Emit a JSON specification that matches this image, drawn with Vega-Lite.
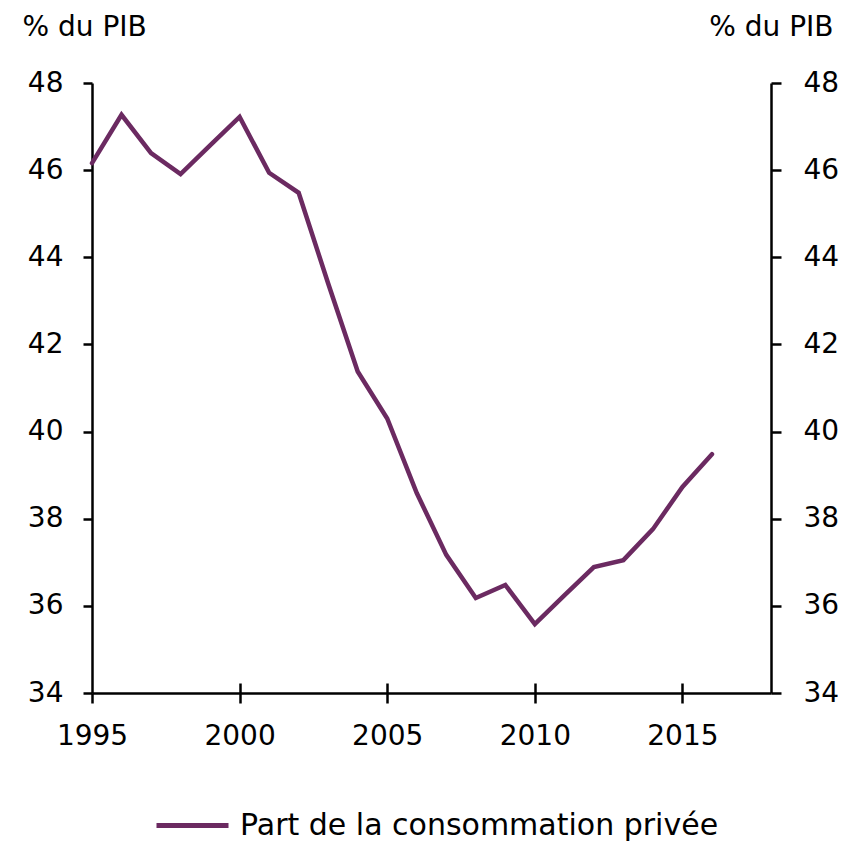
{
  "$schema": "https://vega.github.io/schema/vega-lite/v6.json",
  "width": 679,
  "height": 610,
  "autosize": {"type": "none"},
  "padding": {"left": 92, "top": 83, "right": 79, "bottom": 150},
  "background": "white",
  "config": {
    "font": "DejaVu Sans",
    "view": {"stroke": null},
    "axis": {
      "grid": false,
      "domainColor": "black",
      "domainWidth": 2.5,
      "tickColor": "black",
      "tickWidth": 2.5,
      "labelFont": "DejaVu Sans",
      "labelFontSize": 28,
      "labelColor": "black",
      "titleFont": "DejaVu Sans",
      "titleFontSize": 28,
      "titleFontWeight": "normal",
      "titleColor": "black"
    }
  },
  "data": {
    "values": [
      {"annee": 1995, "valeur": 46.16, "serie": "Part de la consommation privée"},
      {"annee": 1996, "valeur": 47.27, "serie": "Part de la consommation privée"},
      {"annee": 1997, "valeur": 46.39, "serie": "Part de la consommation privée"},
      {"annee": 1998, "valeur": 45.91, "serie": "Part de la consommation privée"},
      {"annee": 1999, "valeur": 46.57, "serie": "Part de la consommation privée"},
      {"annee": 2000, "valeur": 47.22, "serie": "Part de la consommation privée"},
      {"annee": 2001, "valeur": 45.94, "serie": "Part de la consommation privée"},
      {"annee": 2002, "valeur": 45.48, "serie": "Part de la consommation privée"},
      {"annee": 2003, "valeur": 43.4, "serie": "Part de la consommation privée"},
      {"annee": 2004, "valeur": 41.38, "serie": "Part de la consommation privée"},
      {"annee": 2005, "valeur": 40.3, "serie": "Part de la consommation privée"},
      {"annee": 2006, "valeur": 38.59, "serie": "Part de la consommation privée"},
      {"annee": 2007, "valeur": 37.17, "serie": "Part de la consommation privée"},
      {"annee": 2008, "valeur": 36.18, "serie": "Part de la consommation privée"},
      {"annee": 2009, "valeur": 36.48, "serie": "Part de la consommation privée"},
      {"annee": 2010, "valeur": 35.58, "serie": "Part de la consommation privée"},
      {"annee": 2011, "valeur": 36.24, "serie": "Part de la consommation privée"},
      {"annee": 2012, "valeur": 36.89, "serie": "Part de la consommation privée"},
      {"annee": 2013, "valeur": 37.05, "serie": "Part de la consommation privée"},
      {"annee": 2014, "valeur": 37.76, "serie": "Part de la consommation privée"},
      {"annee": 2015, "valeur": 38.73, "serie": "Part de la consommation privée"},
      {"annee": 2016, "valeur": 39.48, "serie": "Part de la consommation privée"}
    ]
  },
  "layer": [
    {
      "mark": {"type": "line", "strokeWidth": 4.5, "strokeCap": "round", "strokeJoin": "miter"},
      "encoding": {
        "x": {
          "field": "annee",
          "type": "quantitative",
          "scale": {"domain": [1995, 2018], "nice": false, "zero": false},
          "axis": {
            "orient": "bottom",
            "title": null,
            "values": [1995, 2000, 2005, 2010, 2015],
            "format": "d",
            "tickSize": 10,
            "labelPadding": 19,
            "labelFlush": false
          }
        },
        "y": {
          "field": "valeur",
          "type": "quantitative",
          "scale": {"domain": [34, 48], "nice": false, "zero": false},
          "axis": {
            "orient": "left",
            "values": [34, 36, 38, 40, 42, 44, 46, 48],
            "tickSize": 9,
            "labelPadding": 20,
            "title": "% du PIB",
            "titleAngle": 0,
            "titleAlign": "left",
            "titleBaseline": "alphabetic",
            "titleX": -70,
            "titleY": -48
          }
        },
        "color": {
          "field": "serie",
          "type": "nominal",
          "scale": {"range": ["#6b2a61"]},
          "legend": {
            "title": null,
            "orient": "none",
            "legendX": 62,
            "legendY": 704,
            "symbolType": "stroke",
            "symbolSize": 5184,
            "symbolStrokeWidth": 5,
            "symbolOpacity": 1,
            "symbolStrokeColor": "#6b2a61",
            "labelOffset": 9,
            "labelFont": "DejaVu Sans",
            "labelFontSize": 30,
            "labelColor": "black",
            "labelLimit": 650
          }
        }
      }
    },
    {
      "mark": {"type": "line", "strokeWidth": 4.5, "opacity": 0},
      "encoding": {
        "x": {
          "field": "annee",
          "type": "quantitative",
          "scale": {"domain": [1995, 2018], "nice": false, "zero": false},
          "axis": {
            "orient": "bottom",
            "title": null,
            "values": [2000, 2005, 2010, 2015],
            "labels": false,
            "domain": false,
            "tickSize": -10
          }
        },
        "y": {
          "field": "valeur",
          "type": "quantitative",
          "scale": {"domain": [34, 48], "nice": false, "zero": false},
          "axis": {
            "orient": "right",
            "values": [34, 36, 38, 40, 42, 44, 46, 48],
            "tickSize": 10,
            "labelPadding": 22,
            "title": "% du PIB",
            "titleAngle": 0,
            "titleAlign": "right",
            "titleBaseline": "alphabetic",
            "titleX": 62,
            "titleY": -48
          }
        }
      }
    }
  ],
  "resolve": {"scale": {"x": "independent", "y": "independent"}, "axis": {"x": "independent", "y": "independent"}}
}
